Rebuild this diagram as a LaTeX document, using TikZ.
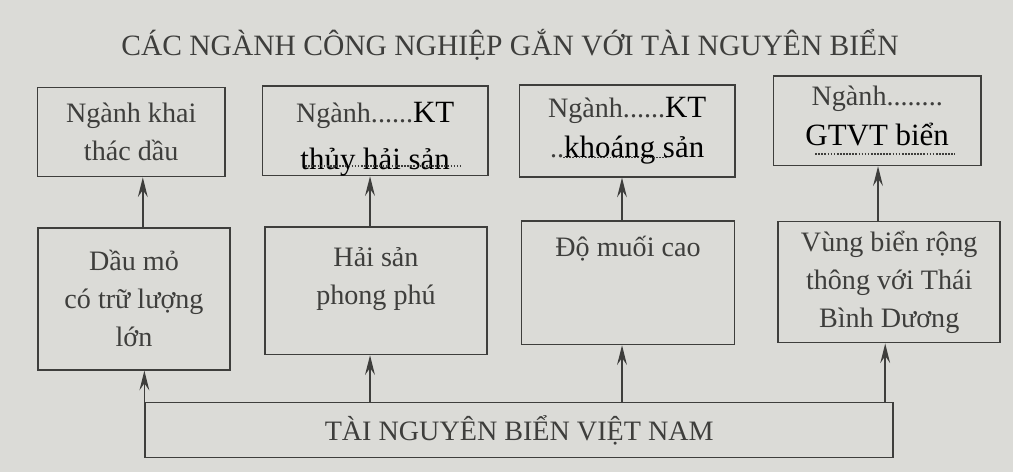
\documentclass[tikz,border=0pt]{standalone}
\usepackage{fontspec}
\setmainfont{Liberation Serif}
\usepackage{tikz}
\usetikzlibrary{arrows.meta}

\definecolor{paper}{RGB}{219,219,215}
\definecolor{ink}{RGB}{62,62,60}
\newcommand{\typed}[1]{{\color{black}\fontsize{22}{26}\selectfont #1}}

\begin{document}
\begin{tikzpicture}
\fill[paper] (0,0) rectangle (25.325,11.8);
\useasboundingbox (0,0) rectangle (25.325,11.8);

\node[text=ink, font=\fontsize{21}{25}\selectfont] (title) at (12.75,10.68)
    {CÁC NGÀNH CÔNG NGHIỆP GẮN VỚI TÀI NGUYÊN BIỂN};

\begin{scope}[every node/.style={rectangle, draw=ink, line width=1.2pt, text=ink,
              align=center, font=\fontsize{20}{27}\selectfont}]
    \node[minimum width=4.68cm, minimum height=2.23cm] (T1) at (3.28,8.50) {Ngành khai\\thác dầu};
    \node[minimum width=5.63cm, minimum height=2.23cm] (T2) at (9.38,8.53) {};
    \node[draw=none] (T2text) at ([yshift=-0.21cm]T2.center) {Ngành......\typed{KT}\\[6pt]\typed{thủy hải sản}};
    \node[minimum width=5.38cm, minimum height=2.30cm] (T3) at (15.68,8.53) {Ngành......\typed{KT}\\[2pt]..\typed{khoáng sản}};
    \node[minimum width=5.18cm, minimum height=2.23cm] (T4) at (21.93,8.78) {};
    \node[draw=none] (T4text) at ([yshift=0.12cm]T4.center) {Ngành........\\[2pt]\typed{GTVT biển}};
    \node[minimum width=4.80cm, minimum height=3.55cm] (M1) at (3.35,4.33) {Dầu mỏ\\có trữ lượng\\lớn};
    \node[minimum width=5.55cm, minimum height=3.18cm] (M2) at (9.40,4.53) {Hải sản\\phong phú\\[-14pt]\strut};
    \node[minimum width=5.33cm, minimum height=3.08cm] (M3) at (15.70,4.73) {Độ muối cao\\\strut\\[-10pt]\strut};
    \node[minimum width=5.55cm, minimum height=3.03cm] (M4) at (22.23,4.75) {Vùng biển rộng\\thông với Thái\\Bình Dương};
    \node[minimum width=18.70cm, minimum height=1.38cm] (B) at (12.98,1.05) {TÀI NGUYÊN BIỂN VIỆT NAM};
\end{scope}

% dotted answer lines
\draw[ink, densely dotted, line width=1.2pt] ([xshift=-1.75cm,yshift=0.25cm]T2.south) -- ++(3.9,0);
\draw[ink, densely dotted, line width=1.2pt] ([xshift=-1.6cm,yshift=0.5cm]T3.south) -- ++(2.6,0);
\draw[ink, densely dotted, line width=1.2pt] ([xshift=-1.55cm,yshift=0.3cm]T4.south) -- ++(3.5,0);

\begin{scope}[>={Stealth[length=14pt, width=7pt, inset=5pt]}, every edge/.style={draw=ink, line width=1.1pt}]
    \path [->] ([xshift=0.22cm]M1.north) edge ([xshift=0.22cm]M1.north |- T1.south);
    \path [->] ([xshift=-0.15cm]M2.north) edge ([xshift=-0.15cm]M2.north |- T2.south);
    \path [->] ([xshift=-0.15cm]M3.north) edge ([xshift=-0.15cm]M3.north |- T3.south);
    \path [->] ([xshift=-0.28cm]M4.north) edge ([xshift=-0.28cm]M4.north |- T4.south);
    \path [->] (B.north west) edge (B.north west |- M1.south);
    \path [->] ([xshift=-0.15cm]B.north -| M2) edge ([xshift=-0.15cm]M2.south);
    \path [->] ([xshift=-0.15cm]B.north -| M3) edge ([xshift=-0.15cm]M3.south);
    \path [->] ([xshift=-0.1cm]B.north -| M4) edge ([xshift=-0.1cm]M4.south);
\end{scope}
\end{tikzpicture}
\end{document}
